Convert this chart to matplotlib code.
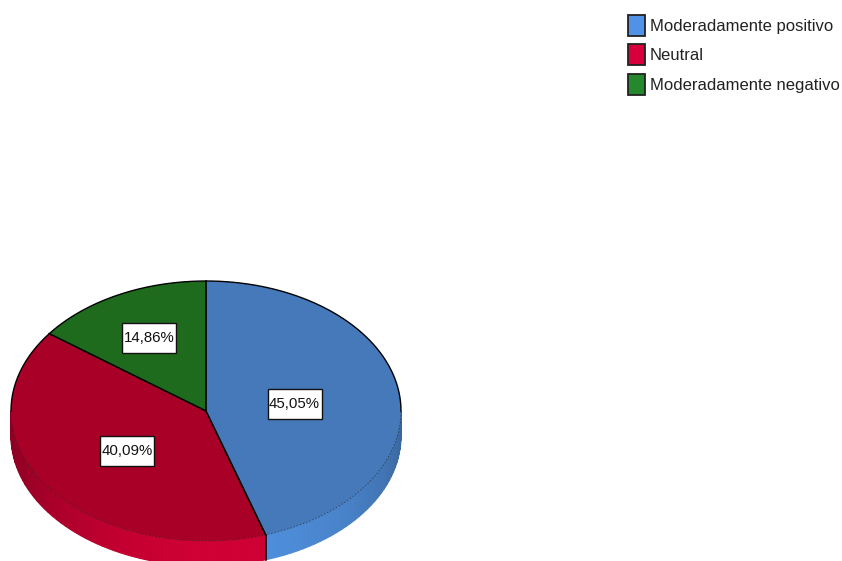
import numpy as np
import matplotlib
matplotlib.use("Agg")
import matplotlib.pyplot as plt
from matplotlib.patches import Patch, Rectangle

labels = ["Moderadamente positivo", "Neutral", "Moderadamente negativo"]
values = [45.05, 40.09, 14.86]
value_text = ["45,05%", "40,09%", "14,86%"]
top_colors = ["#4579ba", "#a90028", "#1f6b1e"]
legend_colors = ["#4f92e6", "#d8003c", "#26882c"]
side_bright = ["#4f8fdd", "#cf0034", "#26882c"]
side_dark = ["#39659a", "#8c0022", "#1a5a1a"]
label_radius = [0.46, 0.5, 0.65]

W, H = 842, 561
CX, CY, RX, RY = 206, 411, 195, 130
DEPTH = 25 / RY

plt.rcParams['font.family'] = ['Liberation Sans', 'DejaVu Sans']

fig = plt.figure(figsize=(W / 100, H / 100), dpi=100)
ax = fig.add_axes([0, 0, 1, 1])

wedges, _ = ax.pie(values, colors=top_colors, startangle=90, counterclock=False,
                   wedgeprops={"linewidth": 0, "zorder": 5})
# pie forces equal aspect, stretch it back to the flat ellipse
ax.set_aspect("auto")
ax.set_xlim(-CX / RX, (W - CX) / RX)
ax.set_ylim((CY - H) / RY, CY / RY)

# side wall, drawn in thin strips so the shading runs round the rim
c_dark = [np.array(matplotlib.colors.to_rgb(c)) for c in side_dark]
c_bright = [np.array(matplotlib.colors.to_rgb(c)) for c in side_bright]
for i, w in enumerate(wedges):
    a0, a1 = w.theta1, w.theta2
    if a0 >= 180:
        a0, a1 = a0 - 360, a1 - 360
    lo, hi = max(a0, -180), min(a1, 0)
    if hi <= lo:
        continue
    edges = np.arange(lo, hi, 2.0).tolist() + [hi]
    for t0, t1 in zip(edges[:-1], edges[1:]):
        mid = np.radians((t0 + t1) / 2)
        k = np.clip(np.cos(mid + np.radians(85)), 0, 1) ** 1.4
        col = c_dark[i] + (c_bright[i] - c_dark[i]) * k
        th = np.radians(np.linspace(t0, t1, 4))
        xs = np.cos(th)
        ys = np.sin(th)
        ax.fill(np.r_[xs, xs[::-1]], np.r_[ys, ys[::-1] - DEPTH], fc=col, ec=col, lw=0.8, zorder=2)

# black rim on the far side, faint dashes on the near side
th = np.radians(np.linspace(0, 180, 200))
ax.plot(np.cos(th), np.sin(th), color="black", lw=1.0, zorder=6)
th = np.radians(np.linspace(-180, 0, 300))
ax.plot(np.cos(th), np.sin(th), color="#222222", lw=0.6, ls=(0, (2, 2)), alpha=0.6, zorder=6)

# slice borders on the top face, and the split on the wall
for w in wedges:
    a = np.radians(w.theta1)
    ax.plot([0, np.cos(a)], [0, np.sin(a)], color="black", lw=1.2, zorder=6)
split = np.radians(90 - values[0] * 3.6)
ax.plot([np.cos(split)] * 2, [np.sin(split), np.sin(split) - DEPTH], color="black", lw=1.1, zorder=6)

for w, txt, r in zip(wedges, value_text, label_radius):
    mid = np.radians((w.theta1 + w.theta2) / 2)
    x, y = r * np.cos(mid), r * np.sin(mid) - 2 / RY
    bw, bh = 54 / RX, 30 / RY
    ax.add_patch(Rectangle((x - bw / 2, y - bh / 2), bw, bh, fc="white", ec="#111111", lw=1.0, zorder=7))
    ax.text(x, y, txt, fontsize=10.8, ha="center", va="center", color="#111111", zorder=8)

handles = [Patch(facecolor=c, edgecolor="#222222", lw=1.3) for c in legend_colors]
fig.legend(handles, labels, loc="upper left", bbox_to_anchor=(628 / W, 1 - 15 / H), frameon=False,
           fontsize=12, handlelength=1.0, handleheight=1.56, handletextpad=0.3,
           labelspacing=0.5, borderpad=0, borderaxespad=0, labelcolor="#222222")

fig.savefig("out.png", dpi=100)
